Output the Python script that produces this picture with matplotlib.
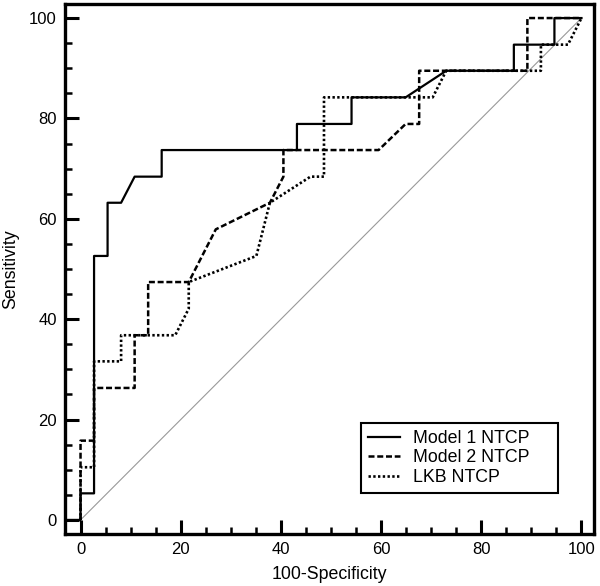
import matplotlib
matplotlib.use("Agg")
import matplotlib.pyplot as plt
from matplotlib.ticker import MultipleLocator

plt.rcParams["font.family"] = ["Liberation Sans", "DejaVu Sans"]

# ROC curves (100-specificity, sensitivity), in percent
m1_fpr = [-3.1, 0.0, 0.0, 2.7, 2.7, 5.4, 5.4, 8.1, 10.8, 16.2, 16.2, 43.2, 43.2,
          54.1, 54.1, 64.9, 73.0, 86.5, 86.5, 94.6, 94.6, 100.0]
m1_tpr = [0.0, 0.0, 5.3, 5.3, 52.6, 52.6, 63.2, 63.2, 68.4, 68.4, 73.7, 73.7, 78.9,
          78.9, 84.2, 84.2, 89.5, 89.5, 94.7, 94.7, 100.0, 100.0]

m2_fpr = [0.0, 0.0, 2.7, 2.7, 10.8, 10.8, 13.5, 13.5, 21.6, 27.0, 37.8, 40.5, 40.5,
          59.5, 64.9, 67.6, 67.6, 89.2, 89.2, 100.0]
m2_tpr = [0.0, 15.8, 15.8, 26.3, 26.3, 36.8, 36.8, 47.4, 47.4, 57.9, 63.2, 68.4, 73.7,
          73.7, 78.9, 78.9, 89.5, 89.5, 100.0, 100.0]

lkb_fpr = [0.0, 0.0, 2.7, 2.7, 8.1, 8.1, 18.9, 21.6, 21.6, 35.1, 37.8, 45.9, 48.6,
           48.6, 70.3, 73.0, 91.9, 91.9, 97.3, 100.0]
lkb_tpr = [0.0, 10.5, 10.5, 31.6, 31.6, 36.8, 36.8, 42.1, 47.4, 52.6, 63.2, 68.4, 68.4,
           84.2, 84.2, 89.5, 89.5, 94.7, 94.7, 100.0]

fig = plt.figure(figsize=(6.0, 5.86), dpi=100)
ax = fig.add_axes([65 / 600, (586 - 534) / 586, (594 - 65) / 600, (534 - 4) / 586])

# chance line
ax.plot([0, 100], [0, 100], color="#999999", linewidth=0.8, zorder=1)

ax.plot(m1_fpr, m1_tpr, color="black", linewidth=1.6, linestyle="-", label="Model 1 NTCP")
ax.plot(m2_fpr, m2_tpr, color="black", linewidth=1.8, linestyle=(0, (2.4, 1.1)), label="Model 2 NTCP")
ax.plot(lkb_fpr, lkb_tpr, color="black", linewidth=1.9, linestyle=(0, (0.9, 0.9)), label="LKB NTCP")

ax.set_xlim(-3.1, 102.5)
ax.set_ylim(-2.8, 102.8)

ax.xaxis.set_major_locator(MultipleLocator(20))
ax.xaxis.set_minor_locator(MultipleLocator(5))
ax.yaxis.set_major_locator(MultipleLocator(20))
ax.yaxis.set_minor_locator(MultipleLocator(5))
ax.tick_params(which="major", direction="in", length=10, width=2.2, labelsize=12, pad=6)
ax.tick_params(which="minor", direction="in", length=5, width=1.8)

for s in ax.spines.values():
    s.set_linewidth(2.4)

ax.set_xlabel("100-Specificity", fontsize=12.8, labelpad=6)
ax.set_ylabel("Sensitivity", fontsize=12.8, labelpad=7)

leg = ax.legend(loc="lower left", bbox_to_anchor=(0.5595, 0.077, 0.3725, 0.14),
                mode="expand", borderaxespad=0, fontsize=12.8,
                frameon=True, fancybox=False, edgecolor="black", framealpha=1,
                handlelength=1.8, handletextpad=0.75, borderpad=0.4,
                labelspacing=0.15)
leg.get_frame().set_linewidth(1.5)

fig.savefig("out.png", dpi=100)
